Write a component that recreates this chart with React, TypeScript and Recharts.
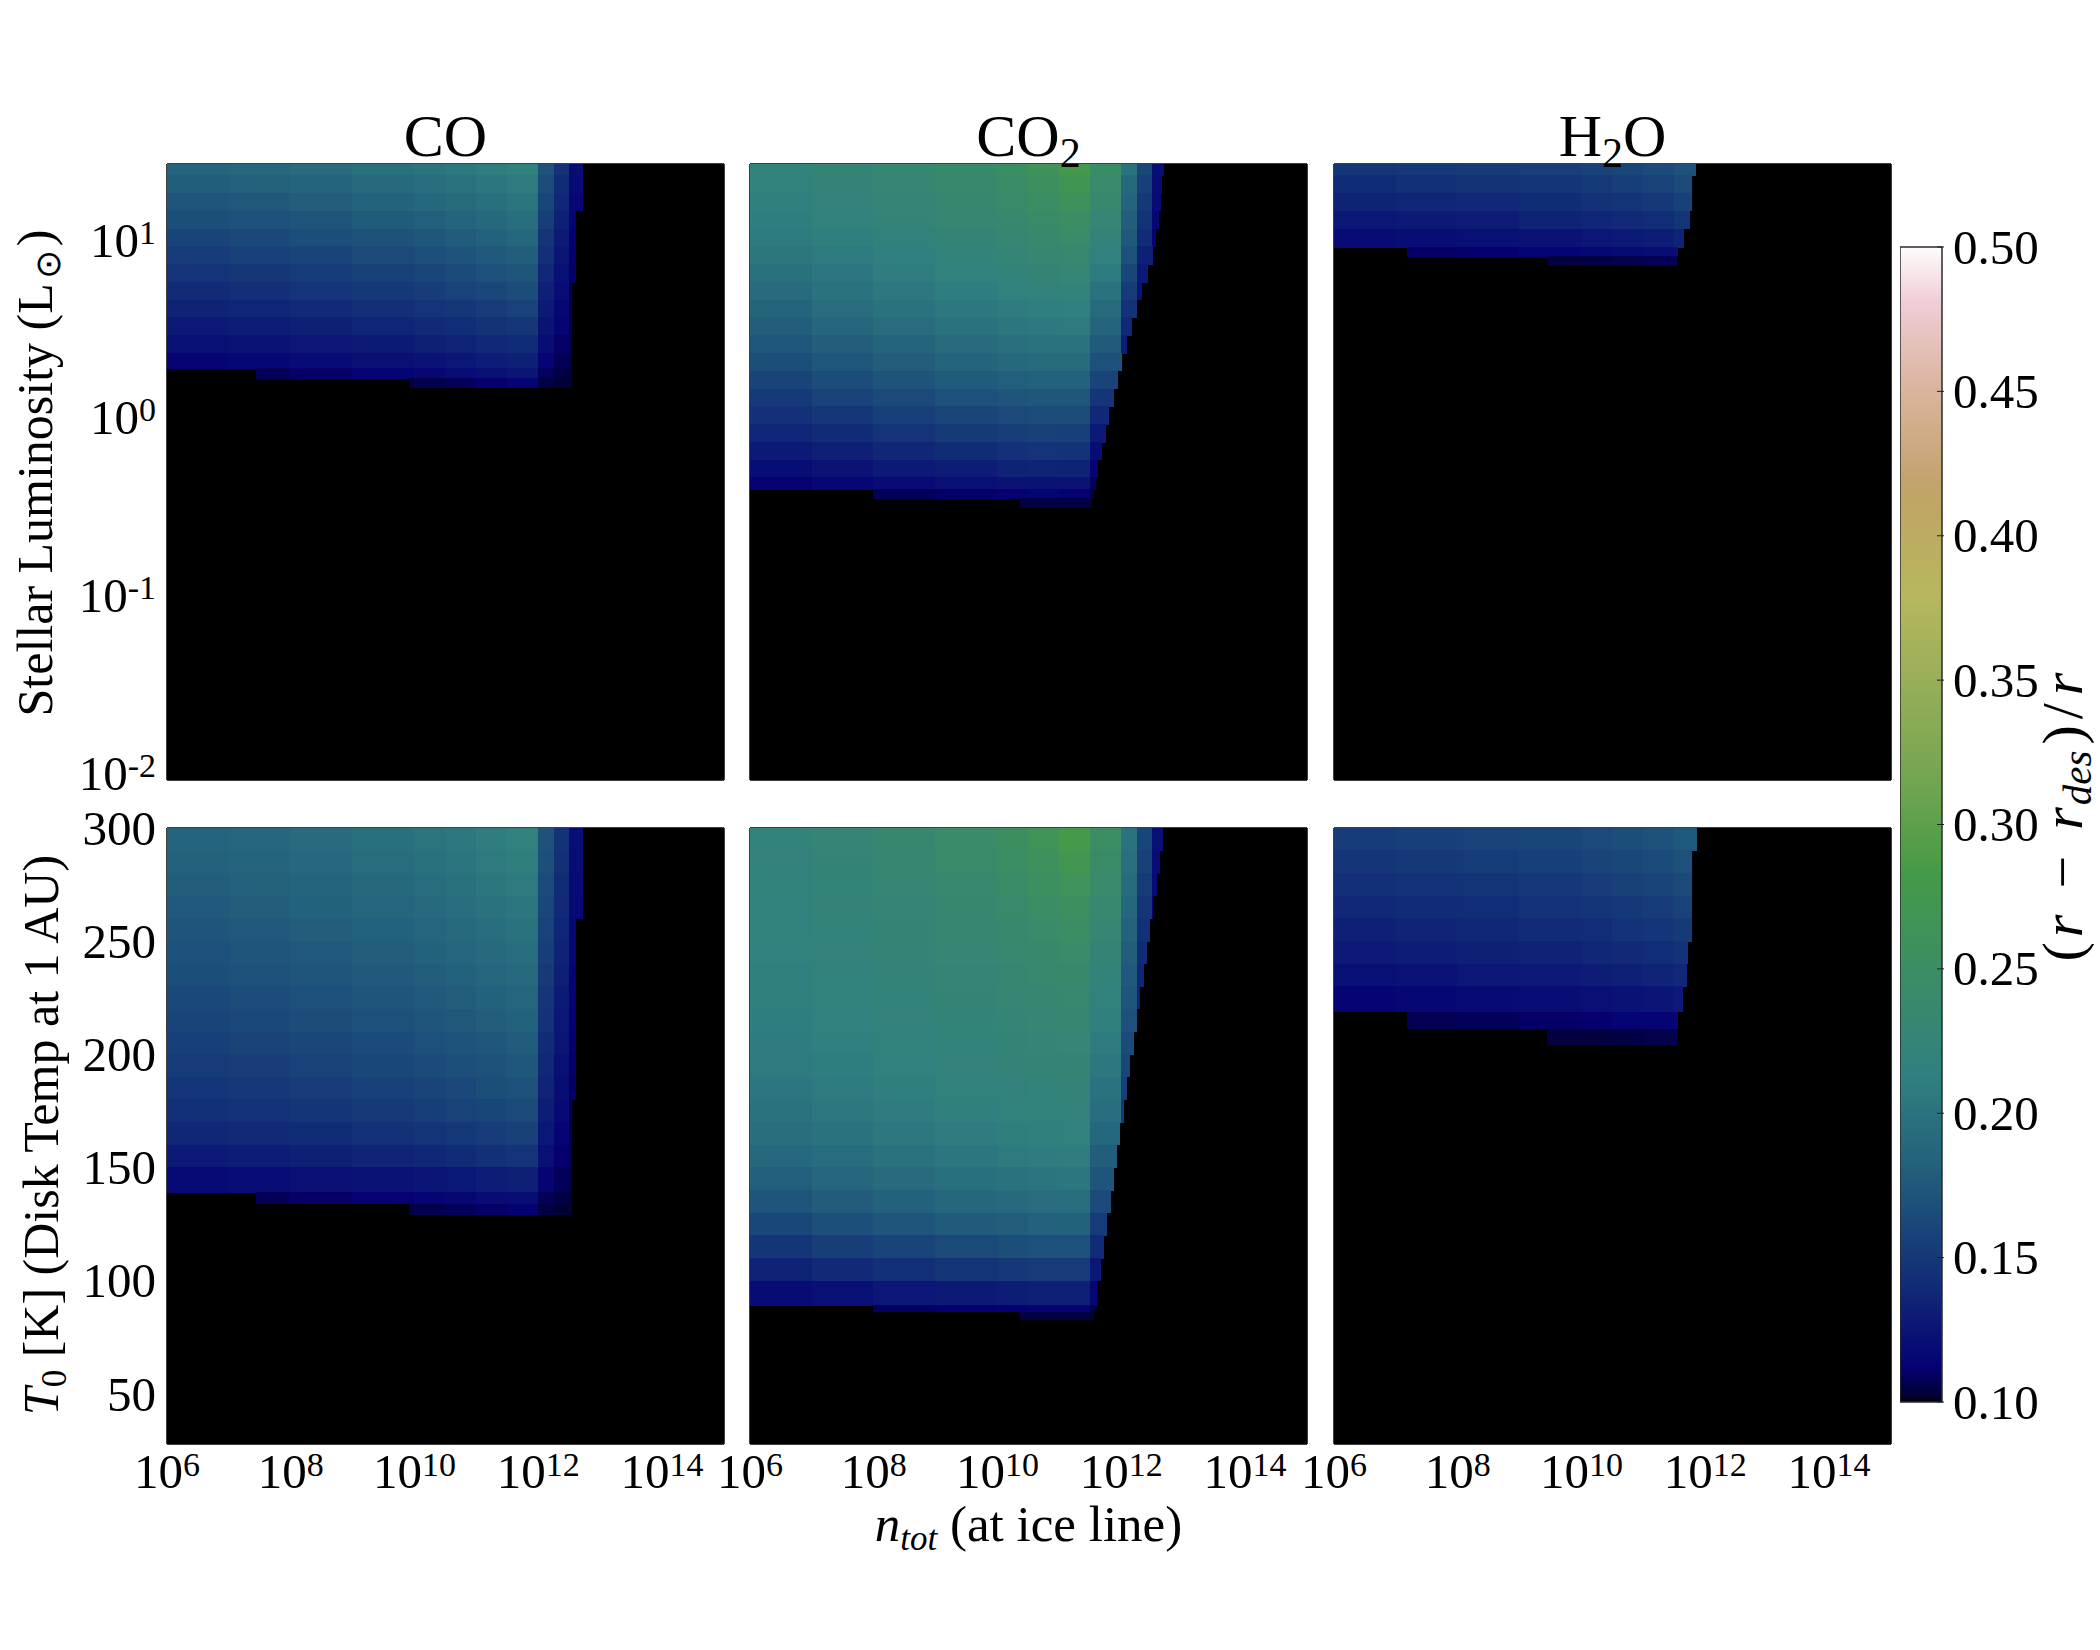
import React from 'react';
import { ComposedChart, Scatter, XAxis, YAxis, CartesianGrid, ReferenceArea } from 'recharts';

// ---------------- data ----------------
const SPECIES_TITLES = ['CO', 'CO2', 'H2O'];
// bin edges along log10(n_tot)
const X_BIN_EDGES = [6, 7, 8, 9, 10, 10.5, 11, 11.5, 12, 12.25, 12.5, 12.75, 13, 14, 15];
const N_DOMAIN = [6, 15];
const X_TICKS = [6, 8, 10, 12, 14];
const LUM_DOMAIN = [-2, 1.465]; // log10 L/Lsun
const LUM_TICKS = [-2, -1, 0, 1];
const TEMP_DOMAIN = [28, 300];
const TEMP_TICKS = [50, 100, 150, 200, 250, 300];
const CBAR_TICKS = [0.1, 0.15, 0.2, 0.25, 0.3, 0.35, 0.4, 0.45, 0.5];
const VMIN = 0.1;
const VMAX = 0.5;

// rows: [yLow, yHigh, xStart, xEnd]; values per X bin ((r - r_des)/r)
const CO_LUM_ROWS = [
  [1.4, 1.465, 6, 12.71], [1.3, 1.4, 6, 12.71], [1.2, 1.3, 6, 12.71], [1.1, 1.2, 6, 12.61],
  [1.0, 1.1, 6, 12.61], [0.9, 1.0, 6, 12.61], [0.8, 0.9, 6, 12.61], [0.7, 0.8, 6, 12.54],
  [0.6, 0.7, 6, 12.54], [0.5, 0.6, 6, 12.54], [0.4, 0.5, 6, 12.54], [0.314, 0.4, 6, 12.54],
  [0.257, 0.314, 7.45, 12.54], [0.206, 0.257, 9.91, 12.54],
];
const CO_LUM_VALS = [
  [.185, .188, .192, .197, .201, .205, .210, .215, .170, .145, .120],
  [.179, .182, .186, .191, .195, .199, .204, .209, .165, .141, .118],
  [.172, .175, .179, .184, .188, .192, .197, .202, .160, .137, .116],
  [.166, .169, .172, .177, .181, .185, .190, .195, .154, .133, .114],
  [.159, .162, .166, .170, .174, .178, .183, .188, .148, .129, .112],
  [.153, .156, .159, .163, .167, .171, .176, .180, .143, .125, .111],
  [.146, .149, .152, .156, .160, .164, .168, .172, .138, .122, .110],
  [.140, .143, .146, .150, .153, .157, .161, .165, .133, .119, .108],
  [.134, .136, .139, .143, .146, .149, .153, .157, .128, .116, .107],
  [.128, .130, .133, .136, .139, .142, .145, .149, .124, .113, .106],
  [.122, .124, .126, .129, .132, .135, .138, .141, .119, .110, .105],
  [.113, .115, .118, .121, .124, .127, .130, .133, .114, .107, .104],
  [null, .108, .110, .113, .116, .119, .122, .125, .109, .105, .103],
  [null, null, null, .104, .106, .108, .111, .114, .105, .103, .102],
];

const CO2_LUM_ROWS = [
  [1.4, 1.465, 6, 12.69], [1.3, 1.4, 6, 12.66], [1.2, 1.3, 6, 12.63], [1.1, 1.2, 6, 12.60],
  [1.0, 1.1, 6, 12.56], [0.9, 1.0, 6, 12.50], [0.8, 0.9, 6, 12.42], [0.7, 0.8, 6, 12.33],
  [0.6, 0.7, 6, 12.25], [0.5, 0.6, 6, 12.17], [0.4, 0.5, 6, 12.08], [0.3, 0.4, 6, 12.00],
  [0.2, 0.3, 6, 11.94], [0.1, 0.2, 6, 11.87], [0.0, 0.1, 6, 11.80], [-0.1, 0.0, 6, 11.74],
  [-0.2, -0.1, 6, 11.68], [-0.3, -0.2, 6, 11.62], [-0.367, -0.3, 6, 11.58],
  [-0.416, -0.367, 8.0, 11.55], [-0.469, -0.416, 10.36, 11.52],
];
const CO2_LUM_VALS = [
  [.220, .225, .232, .240, .250, .262, .280, .245, .200, .160, .122],
  [.217, .222, .229, .237, .246, .257, .270, .240, .190, .155, .120],
  [.214, .219, .226, .233, .241, .250, .260, .235, .185, .150, .118],
  [.211, .216, .222, .229, .236, .243, .250, .228, .180, .145, .116],
  [.207, .212, .218, .225, .231, .237, .242, .222, .175, .140, .114],
  [.203, .208, .214, .220, .226, .231, .235, .215, .168, .133],
  [.198, .204, .210, .216, .221, .225, .228, .208, .160, .128],
  [.192, .199, .205, .211, .215, .219, .221, .200, .152, .124],
  [.186, .193, .199, .205, .209, .212, .214, .192, .145],
  [.180, .187, .193, .199, .203, .206, .207, .185, .138],
  [.173, .180, .186, .192, .196, .199, .200, .177, .130],
  [.166, .173, .179, .185, .189, .192, .192, .168],
  [.159, .165, .171, .177, .181, .183, .183, .158],
  [.151, .157, .163, .168, .172, .174, .174, .148],
  [.144, .149, .155, .160, .163, .165, .165, .138],
  [.136, .141, .146, .151, .154, .156, .155, .128],
  [.128, .133, .137, .141, .144, .146, .145, .120],
  [.120, .124, .128, .131, .134, .135, .134, .114],
  [.112, .115, .118, .121, .123, .124, .123, .108],
  [null, null, .108, .110, .112, .113, .112, .105],
  [null, null, null, null, .104, .105, .105, .103],
];

const H2O_LUM_ROWS = [
  [1.4, 1.465, 6, 11.85], [1.3, 1.4, 6, 11.78], [1.2, 1.3, 6, 11.78], [1.1, 1.2, 6, 11.74],
  [0.995, 1.1, 6, 11.65], [0.944, 0.995, 7.19, 11.56], [0.893, 0.944, 9.45, 11.53],
];
const H2O_LUM_VALS = [
  [.148, .150, .152, .154, .157, .160, .164, .170],
  [.141, .143, .145, .148, .151, .154, .157, .163],
  [.134, .136, .138, .141, .144, .147, .150, .156],
  [.127, .129, .131, .134, .136, .139, .142, .147],
  [.118, .120, .122, .124, .126, .129, .131, .135],
  [null, .110, .111, .113, .115, .117, .119, .121],
  [null, null, null, .104, .105, .106, .107, .108],
];

const CO_T0_ROWS = [
  [290, 300, 6, 12.71], [280, 290, 6, 12.71], [270, 280, 6, 12.71], [260, 270, 6, 12.71],
  [250, 260, 6, 12.61], [240, 250, 6, 12.61], [230, 240, 6, 12.61], [220, 230, 6, 12.61],
  [210, 220, 6, 12.61], [200, 210, 6, 12.61], [190, 200, 6, 12.61], [180, 190, 6, 12.61],
  [170, 180, 6, 12.54], [160, 170, 6, 12.54], [150, 160, 6, 12.54], [139, 150, 6, 12.54],
  [134, 139, 7.45, 12.54], [129.3, 134, 9.91, 12.54],
];
const CO_T0_VALS = [
  [.185, .188, .192, .197, .201, .205, .210, .215, .170, .145, .120],
  [.182, .185, .189, .194, .198, .202, .207, .212, .167, .143, .119],
  [.179, .182, .186, .190, .194, .198, .203, .208, .164, .141, .118],
  [.176, .179, .183, .187, .191, .195, .200, .204, .161, .139, .117],
  [.172, .175, .179, .183, .187, .191, .195, .199, .157, .136, .116],
  [.169, .172, .175, .179, .183, .187, .191, .195, .154, .134, .115],
  [.166, .169, .172, .176, .180, .183, .187, .191, .151, .132, .114],
  [.162, .165, .168, .172, .176, .179, .183, .187, .148, .129, .113],
  [.159, .162, .165, .169, .172, .175, .179, .183, .145, .127, .112],
  [.155, .158, .161, .164, .168, .171, .174, .178, .141, .125, .111],
  [.152, .154, .157, .161, .164, .167, .170, .174, .138, .122, .110],
  [.148, .150, .153, .156, .159, .162, .166, .169, .135, .120, .109],
  [.143, .145, .148, .151, .154, .157, .160, .163, .131, .117, .108],
  [.137, .139, .141, .144, .147, .150, .153, .156, .127, .114, .107],
  [.128, .130, .132, .135, .137, .140, .143, .146, .121, .111, .106],
  [.117, .119, .121, .123, .125, .127, .130, .132, .114, .108, .104],
  [null, .108, .110, .112, .114, .116, .118, .120, .108, .105, .103],
  [null, null, null, .104, .106, .108, .110, .112, .105, .103, .102],
];

const CO2_T0_ROWS = [
  [290, 300, 6, 12.67], [280, 290, 6, 12.62], [270, 280, 6, 12.57], [260, 270, 6, 12.51],
  [250, 260, 6, 12.46], [240, 250, 6, 12.41], [230, 240, 6, 12.36], [220, 230, 6, 12.30],
  [210, 220, 6, 12.25], [200, 210, 6, 12.20], [190, 200, 6, 12.14], [180, 190, 6, 12.09],
  [170, 180, 6, 12.04], [160, 170, 6, 11.98], [150, 160, 6, 11.93], [140, 150, 6, 11.88],
  [130, 140, 6, 11.83], [120, 130, 6, 11.77], [110, 120, 6, 11.72], [100, 110, 6, 11.67],
  [89.2, 100, 6, 11.61], [86.3, 89.2, 8.0, 11.57], [82.8, 86.3, 10.36, 11.55],
];
const CO2_T0_VALS = [
  [.220, .226, .233, .242, .252, .265, .282, .248, .200, .160, .122],
  [.219, .224, .231, .239, .248, .259, .272, .244, .196, .156, .120],
  [.218, .223, .229, .236, .244, .253, .263, .239, .192, .152, .118],
  [.217, .222, .227, .233, .240, .247, .255, .234, .188, .148, .116],
  [.216, .220, .225, .231, .237, .242, .248, .229, .184, .144],
  [.215, .219, .224, .229, .234, .238, .242, .225, .180, .140],
  [.214, .218, .222, .227, .231, .235, .238, .221, .176, .137],
  [.213, .217, .221, .225, .229, .232, .234, .217, .172, .134],
  [.211, .215, .219, .223, .227, .230, .231, .213, .168],
  [.209, .213, .217, .221, .224, .227, .228, .209, .164],
  [.207, .211, .215, .219, .222, .224, .225, .205, .160],
  [.204, .208, .212, .216, .219, .221, .222, .200, .155],
  [.200, .205, .209, .213, .216, .218, .219, .195, .150],
  [.195, .200, .205, .209, .212, .214, .215, .188],
  [.189, .194, .199, .204, .207, .209, .210, .180],
  [.181, .187, .192, .197, .200, .202, .203, .172],
  [.172, .178, .183, .188, .191, .193, .194, .163],
  [.161, .167, .172, .177, .180, .182, .183, .152],
  [.148, .154, .159, .163, .166, .168, .169, .140],
  [.134, .139, .143, .147, .150, .152, .152, .127],
  [.118, .122, .126, .129, .131, .132, .132, .115],
  [null, null, .109, .111, .112, .113, .113, .106],
  [null, null, null, null, .104, .105, .105, .103],
];

const H2O_T0_ROWS = [
  [290, 300, 6, 11.86], [280, 290, 6, 11.78], [270, 280, 6, 11.78], [260, 270, 6, 11.78],
  [250, 260, 6, 11.78], [240, 250, 6, 11.72], [230, 240, 6, 11.70], [218.8, 230, 6, 11.64],
  [211.3, 218.8, 7.18, 11.56], [204.2, 211.3, 9.45, 11.53],
];
const H2O_T0_VALS = [
  [.153, .155, .157, .160, .163, .166, .170, .175],
  [.148, .150, .152, .155, .158, .161, .164, .169],
  [.143, .145, .147, .150, .153, .156, .159, .163],
  [.138, .140, .142, .145, .148, .150, .153, .157],
  [.133, .135, .137, .140, .142, .145, .148, .151],
  [.128, .130, .132, .134, .137, .139, .142, .145],
  [.122, .124, .126, .128, .131, .133, .135, .138],
  [.113, .115, .117, .119, .121, .123, .125, .128],
  [null, .107, .108, .110, .111, .113, .114, .116],
  [null, null, null, .104, .104, .105, .106, .107],
];

// ---------------- colormap (matplotlib gist_earth) ----------------
const GE_R = [[0, 0], [0.2824, 0.1882], [0.4588, 0.2714], [0.549, 0.4719], [0.698, 0.7176], [0.7882, 0.7553], [1, 0.9922]];
const GE_G = [[0, 0], [0.0275, 0], [0.1098, 0.1893], [0.1647, 0.3035], [0.2078, 0.3841], [0.2824, 0.502], [0.5216, 0.6397], [0.698, 0.7171], [0.7882, 0.6392], [0.7922, 0.6413], [0.8, 0.6447], [0.8078, 0.6481], [0.8157, 0.6549], [0.8667, 0.7011], [0.8745, 0.7086], [0.8824, 0.7151], [0.9098, 0.7504], [0.9294, 0.7748], [0.9372, 0.7861], [0.9529, 0.8097], [1, 0.9922]];
const GE_B = [[0, 0], [0.0039, 0.1684], [0.0078, 0.2212], [0.0275, 0.4329], [0.0314, 0.4549], [0.2824, 0.5004], [0.4667, 0.2748], [0.5451, 0.3205], [0.7843, 0.3961], [0.8941, 0.6651], [1, 0.9843]];

function interp(stops: number[][], t: number) {
  for (let i = 1; i < stops.length; i++) {
    if (t <= stops[i][0]) {
      const [t0, v0] = stops[i - 1];
      const [t1, v1] = stops[i];
      return v0 + ((t - t0) / (t1 - t0)) * (v1 - v0);
    }
  }
  return stops[stops.length - 1][1];
}
function cmapT(t: number) {
  const c = Math.max(0, Math.min(1, t));
  const r = Math.round(interp(GE_R, c) * 255);
  const g = Math.round(interp(GE_G, c) * 255);
  const b = Math.round(interp(GE_B, c) * 255);
  return `rgb(${r},${g},${b})`;
}
const valueColor = (v: number) => cmapT((v - VMIN) / (VMAX - VMIN));
const GRAD_STOPS = Array.from(new Set([...GE_R, ...GE_G, ...GE_B].map((s) => s[0]))).sort((a, b) => a - b);

// ---------------- layout ----------------
const FONT = '"Liberation Serif", "Times New Roman", serif';
const PANEL_W = 557;
const PANEL_H = 616;
const COL_X = [167, 750, 1334];
const ROW_Y = [164, 828];
const MT = 40;
const MR = 20;
const BH = 60;
const CB = { x: 1900, y: 247, w: 42, h: 1155 };

const X_MINOR: number[] = [];
for (let d = 6; d < 15; d++) {
  for (let k = 1; k <= 9; k++) {
    if (k === 1 && d % 2 === 0) continue;
    X_MINOR.push(d + Math.log10(k));
  }
}
const LUM_MINOR: number[] = [];
for (let d = -2; d <= 1; d++) {
  for (let k = 2; k <= 9; k++) {
    const v = d + Math.log10(k);
    if (v < LUM_DOMAIN[1] - 0.005) LUM_MINOR.push(v);
  }
}

function buildCells(rows: number[][], vals: (number | null)[][]) {
  const out: any[] = [];
  rows.forEach(([lo, hi, xs, xe], r) => {
    vals[r].forEach((v, i) => {
      if (v == null) return;
      const x0 = Math.max(X_BIN_EDGES[i], xs);
      const x1 = Math.min(X_BIN_EDGES[i + 1], xe);
      if (x1 <= x0) return;
      out.push({ x: (x0 + x1) / 2, y: (lo + hi) / 2, w: x1 - x0, h: hi - lo, v });
    });
  });
  return out;
}

const XTick = (p: any) => (
  <text x={p.x} y={p.y + 42} textAnchor="middle" fontFamily={FONT} fontSize={49} fill="#000">
    10<tspan dy={-12} fontSize={34}>{p.payload.value}</tspan>
  </text>
);
const LumTick = (p: any) => (
  <text x={p.x - 9} y={p.y + 10} textAnchor="end" fontFamily={FONT} fontSize={49} fill="#000">
    10<tspan dy={-13} fontSize={34}>{p.payload.value < 0 ? `-${Math.abs(p.payload.value)}` : p.payload.value}</tspan>
  </text>
);
const TempTick = (p: any) => (
  <text x={p.x - 9} y={p.y + 16.5} textAnchor="end" fontFamily={FONT} fontSize={49} fill="#000">
    {p.payload.value}
  </text>
);
const CbarTick = (p: any) => (
  <g>
    <line x1={p.x - 7} x2={p.x} y1={p.y} y2={p.y} stroke="#222" strokeWidth={1} />
    <text x={p.x + 9} y={p.y + 16.5} textAnchor="start" fontFamily={FONT} fontSize={49} fill="#000">
      {p.payload.value.toFixed(2)}
    </text>
  </g>
);

function Panel({ col, row, rows, vals }: { col: number; row: number; rows: number[][]; vals: (number | null)[][] }) {
  const isLum = row === 0;
  const yDomain = isLum ? LUM_DOMAIN : TEMP_DOMAIN;
  const yTicks = isLum ? LUM_TICKS : TEMP_TICKS;
  const cells = buildCells(rows, vals);
  const lw = col === 0 ? COL_X[0] : 60;
  const W = lw + PANEL_W + MR;
  const H = MT + PANEL_H + BH;
  const pxX = PANEL_W / (N_DOMAIN[1] - N_DOMAIN[0]);
  const pxY = PANEL_H / (yDomain[1] - yDomain[0]);
  const shape = (p: any) => {
    const w = p.payload.w * pxX;
    const h = p.payload.h * pxY;
    return (
      <rect
        x={p.cx - w / 2 - 0.3}
        y={p.cy - h / 2 - 0.3}
        width={w + 0.6}
        height={h + 0.6}
        fill={valueColor(p.payload.v)}
        shapeRendering="crispEdges"
      />
    );
  };
  return (
    <div style={{ position: 'absolute', left: COL_X[col] - lw, top: ROW_Y[row] - MT, width: W, height: H }}>
      <ComposedChart width={W} height={H} margin={{ top: MT, right: MR, bottom: 0, left: 0 }}>
        <CartesianGrid fill="#000" stroke="none" horizontal={false} vertical={false} />
        <XAxis
          dataKey="x"
          type="number"
          domain={N_DOMAIN}
          allowDataOverflow
          ticks={X_TICKS}
          interval={0}
          height={BH}
          tickSize={0}
          tickLine={false}
          axisLine={{ stroke: '#000', strokeWidth: 1.5 }}
          tick={row === 1 ? (p: any) => <XTick {...p} /> : false}
        />
        <XAxis xAxisId="topMaj" orientation="top" mirror type="number" domain={N_DOMAIN} allowDataOverflow
          ticks={X_TICKS} interval={0} tick={false} tickSize={8} stroke="#000"
          tickLine={{ stroke: '#000', strokeWidth: 1 }} axisLine={{ stroke: '#000', strokeWidth: 1.5 }} />
        <XAxis xAxisId="topMin" orientation="top" mirror type="number" domain={N_DOMAIN} allowDataOverflow
          ticks={X_MINOR} interval={0} tick={false} tickSize={4} stroke="#000"
          tickLine={{ stroke: '#000', strokeWidth: 1 }} axisLine={false} />
        <YAxis
          dataKey="y"
          type="number"
          domain={yDomain}
          allowDataOverflow
          ticks={yTicks}
          interval={0}
          width={lw}
          tickSize={0}
          tickLine={false}
          axisLine={{ stroke: '#000', strokeWidth: 1.5 }}
          tick={col === 0 ? (p: any) => (isLum ? <LumTick {...p} /> : <TempTick {...p} />) : false}
        />
        <YAxis yAxisId="leftMaj" orientation="left" mirror type="number" domain={yDomain} allowDataOverflow
          ticks={yTicks} interval={0} tick={false} tickSize={8} stroke="#000"
          tickLine={{ stroke: '#000', strokeWidth: 1 }} axisLine={false} />
        {isLum && (
          <YAxis yAxisId="leftMin" orientation="left" mirror type="number" domain={yDomain} allowDataOverflow
            ticks={LUM_MINOR} interval={0} tick={false} tickSize={4} stroke="#000"
            tickLine={{ stroke: '#000', strokeWidth: 1 }} axisLine={false} />
        )}
        <YAxis yAxisId="rightEdge" orientation="right" mirror type="number" domain={yDomain} allowDataOverflow
          ticks={yTicks} interval={0} tick={false} tickLine={false} stroke="#000"
          axisLine={{ stroke: '#000', strokeWidth: 1.5 }} />
        <Scatter data={cells} shape={shape} isAnimationActive={false} />
      </ComposedChart>
    </div>
  );
}

function Colorbar() {
  const MTc = 30;
  const W = CB.w + 160;
  const H = CB.h + 2 * MTc;
  return (
    <div style={{ position: 'absolute', left: CB.x, top: CB.y - MTc, width: W, height: H }}>
      <ComposedChart width={W} height={H} margin={{ top: MTc, right: 0, bottom: MTc, left: 0 }}>
        <defs>
          <linearGradient id="gistEarth" x1="0" y1="1" x2="0" y2="0">
            {GRAD_STOPS.map((t) => (
              <stop key={t} offset={`${t * 100}%`} stopColor={cmapT(t)} />
            ))}
          </linearGradient>
        </defs>
        <XAxis type="number" dataKey="x" domain={[0, 1]} allowDataOverflow hide />
        <YAxis
          type="number"
          dataKey="y"
          orientation="right"
          domain={[VMIN, VMAX]}
          allowDataOverflow
          ticks={CBAR_TICKS}
          interval={0}
          width={160}
          tickSize={0}
          tickLine={false}
          axisLine={false}
          tick={(p: any) => <CbarTick {...p} />}
        />
        <ReferenceArea x1={0} x2={1} y1={VMIN} y2={VMAX} fill="url(#gistEarth)" fillOpacity={1} stroke="#2b2b2b" strokeWidth={1.5} ifOverflow="visible" />
      </ComposedChart>
    </div>
  );
}

function Labels() {
  const titleY = 156;
  const centers = COL_X.map((x) => x + PANEL_W / 2);
  return (
    <svg width={2100} height={1650} style={{ position: 'absolute', left: 0, top: 0, pointerEvents: 'none' }} fontFamily={FONT} fill="#000">
      <text x={centers[0]} y={titleY} textAnchor="middle" fontSize={60}>{SPECIES_TITLES[0]}</text>
      <text x={centers[1]} y={titleY} textAnchor="middle" fontSize={60}>
        CO<tspan dy={11} fontSize={42}>2</tspan>
      </text>
      <text x={centers[2]} y={titleY} textAnchor="middle" fontSize={60}>
        H<tspan dy={11} fontSize={42}>2</tspan><tspan dy={-11}>O</tspan>
      </text>
      <text x={centers[1]} y={1541} textAnchor="middle" fontSize={51}>
        <tspan fontStyle="italic">n</tspan><tspan fontStyle="italic" fontSize={35} dy={9}>tot</tspan><tspan dy={-9}>{' (at ice line)'}</tspan>
      </text>
      <text x={52} y={473} transform="rotate(-90 52 473)" textAnchor="middle" fontSize={50}>
        {'Stellar Luminosity (L'}<tspan dx={4} dy={8} fontSize={35}>⊙</tspan><tspan dx={4} dy={-8}>)</tspan>
      </text>
      <text x={58} y={1135} transform="rotate(-90 58 1135)" textAnchor="middle" fontSize={50}>
        <tspan fontStyle="italic">T</tspan><tspan dy={8} fontSize={35}>0</tspan><tspan dy={-8}>{' [K] (Disk Temp at 1 AU)'}</tspan>
      </text>
      <text x={2082} y={817} transform="rotate(-90 2082 817)" textAnchor="middle" fontSize={58}>
        (<tspan dx={5} fontStyle="italic">r</tspan><tspan dx={26}>−</tspan><tspan dx={26} fontStyle="italic">r</tspan><tspan dx={2} fontStyle="italic" fontSize={41} dy={9}>des</tspan><tspan dx={6} dy={-9}>)</tspan><tspan dx={6}>/</tspan><tspan dx={8} fontStyle="italic">r</tspan>
      </text>
    </svg>
  );
}

export default function App() {
  return (
    <div style={{ position: 'absolute', left: 0, top: 0, width: 2100, height: 1650, background: '#fff', overflow: 'hidden' }}>
      <Panel col={0} row={0} rows={CO_LUM_ROWS} vals={CO_LUM_VALS} />
      <Panel col={1} row={0} rows={CO2_LUM_ROWS} vals={CO2_LUM_VALS} />
      <Panel col={2} row={0} rows={H2O_LUM_ROWS} vals={H2O_LUM_VALS} />
      <Panel col={0} row={1} rows={CO_T0_ROWS} vals={CO_T0_VALS} />
      <Panel col={1} row={1} rows={CO2_T0_ROWS} vals={CO2_T0_VALS} />
      <Panel col={2} row={1} rows={H2O_T0_ROWS} vals={H2O_T0_VALS} />
      <Colorbar />
      <Labels />
    </div>
  );
}
